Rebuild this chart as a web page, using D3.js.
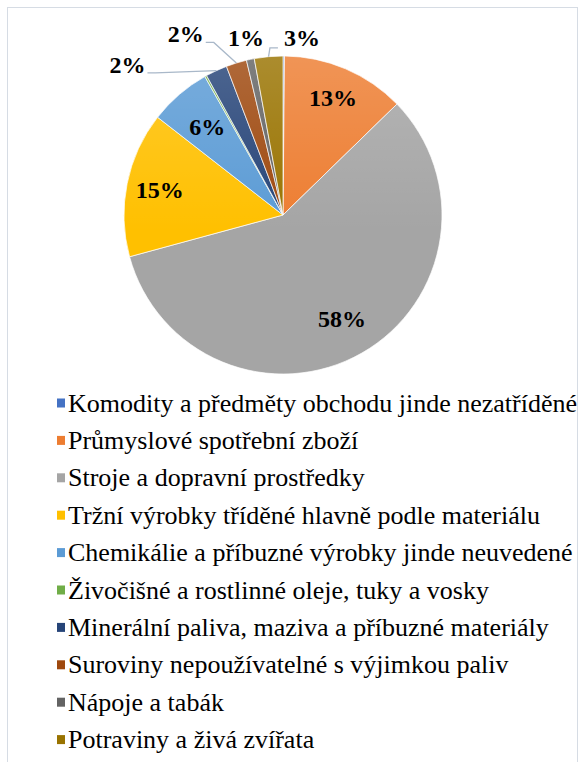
<html>
<head>
<meta charset="utf-8">
<style>
  body { margin: 0; background: #fff; }
</style>
</head>
<body>
<script src="https://cdn.jsdelivr.net/npm/d3@7"></script>
<script>
// data
var categories = [
  'Komodity a předměty obchodu jinde nezatříděné',
  'Průmyslové spotřební zboží',
  'Stroje a dopravní prostředky',
  'Tržní výrobky tříděné hlavně podle materiálu',
  'Chemikálie a příbuzné výrobky jinde neuvedené',
  'Živočišné a rostlinné oleje, tuky a vosky',
  'Minerální paliva, maziva a příbuzné materiály',
  'Suroviny nepoužívatelné s výjimkou paliv',
  'Nápoje a tabák',
  'Potraviny a živá zvířata'
];
var shares = [0.15, 12.6, 58.2, 14.8, 6.3, 0.2, 2.2, 2.1, 0.8, 2.9];
var labels = ['', '13%', '58%', '15%', '6%', '', '2%', '2%', '1%', '3%'];
var colors = ['#4472C4', '#ED7D31', '#A5A5A5', '#FFC000', '#5B9BD5',
              '#70AD47', '#264478', '#9E480E', '#636363', '#997300'];

var width = 579, height = 762;
var cx = 283, cy = 215, radius = 159;
var serif = '"Liberation Serif", "Times New Roman", serif';

// label placement: inside = fraction of radius, outside = angle (deg) + radius factor + leader side
var labelPlace = [
  null,
  {r: 0.8},
  {r: 0.75},
  {r: 0.79},
  {r: 0.73},
  null,
  {a: 314, r: 1.36, side: 'right'},
  {a: 331.7, r: 1.29, side: 'right'},
  {a: 348.2, r: 1.14},
  {a: 6.1, r: 1.12, side: 'left'}
];

var svg = d3.select('body').append('svg')
  .attr('width', width)
  .attr('height', height)
  .style('display', 'block');

// chart border
svg.append('rect')
  .attr('x', 7.5).attr('y', 7.5)
  .attr('width', 570).attr('height', height)
  .attr('fill', '#fff')
  .attr('stroke', '#d6dce4')
  .attr('stroke-width', 1);

var defs = svg.append('defs');
var shine = defs.append('linearGradient')
  .attr('id', 'shine')
  .attr('gradientUnits', 'userSpaceOnUse')
  .attr('x1', 0).attr('y1', -radius)
  .attr('x2', 0).attr('y2', radius);
shine.append('stop').attr('offset', '0%').attr('stop-color', '#fff').attr('stop-opacity', 0.18);
shine.append('stop').attr('offset', '55%').attr('stop-color', '#fff').attr('stop-opacity', 0);

var pie = d3.pie().sort(null).value(function(d) { return d; });
var arcs = pie(shares);
var arc = d3.arc().innerRadius(0).outerRadius(radius);

var g = svg.append('g').attr('transform', 'translate(' + cx + ',' + cy + ')');

g.selectAll('.slice')
  .data(arcs)
  .enter()
  .append('path')
  .attr('class', 'slice')
  .attr('d', arc)
  .attr('fill', function(d, i) { return colors[i]; })
  .attr('stroke', '#fff')
  .attr('stroke-width', 0.7);

// soft highlight on the upper part
g.append('circle')
  .attr('r', radius)
  .attr('fill', 'url(#shine)')
  .style('pointer-events', 'none');

function polar(angleDeg, r) {
  var a = angleDeg * Math.PI / 180;
  return [Math.sin(a) * r, -Math.cos(a) * r];
}

var leaders = g.append('g');

// data labels
arcs.forEach(function(d, i) {
  var p = labelPlace[i];
  if (!p || !labels[i]) return;
  var midDeg = (d.startAngle + d.endAngle) / 2 * 180 / Math.PI;
  var pos = p.a === undefined ? polar(midDeg, radius * p.r) : polar(p.a, radius * p.r);
  var t = g.append('text')
    .attr('x', pos[0])
    .attr('y', pos[1])
    .attr('text-anchor', 'middle')
    .attr('dominant-baseline', 'central')
    .style('font-family', serif)
    .style('font-weight', 'bold')
    .style('font-size', '24px')
    .attr('fill', '#000')
    .text(labels[i]);

  if (p.side) {
    var w = t.node().getComputedTextLength();
    var rim = polar(midDeg, radius);
    var pts;
    if (p.side === 'right') {
      var lx = pos[0] + w / 2 + 2, ly = pos[1] + 8;
      pts = [[lx, ly], [lx + 8, ly], rim];
    } else {
      var lx2 = pos[0] - w / 2 - 6, ly2 = pos[1] + 10;
      pts = [rim, [lx2 - 8, ly2], [lx2, ly2]];
    }
    leaders.append('path')
      .attr('d', d3.line()(pts))
      .attr('fill', 'none')
      .attr('stroke', '#a9b8c9')
      .attr('stroke-width', 1.3);
  }
});

// legend
var legendX = 57, legendY = 403, rowH = 37.4;
var legend = svg.append('g').attr('class', 'legend');
var rows = legend.selectAll('g')
  .data(categories)
  .enter()
  .append('g')
  .attr('transform', function(d, i) { return 'translate(' + legendX + ',' + (legendY + i * rowH) + ')'; });

rows.append('rect')
  .attr('x', 0).attr('y', -4.5)
  .attr('width', 8).attr('height', 9)
  .attr('fill', function(d, i) { return colors[i]; });

rows.append('text')
  .attr('x', 11)
  .attr('y', 0)
  .attr('dominant-baseline', 'central')
  .style('font-family', serif)
  .style('font-size', '26px')
  .attr('fill', '#000')
  .text(function(d) { return d; });
</script>
</body>
</html>
